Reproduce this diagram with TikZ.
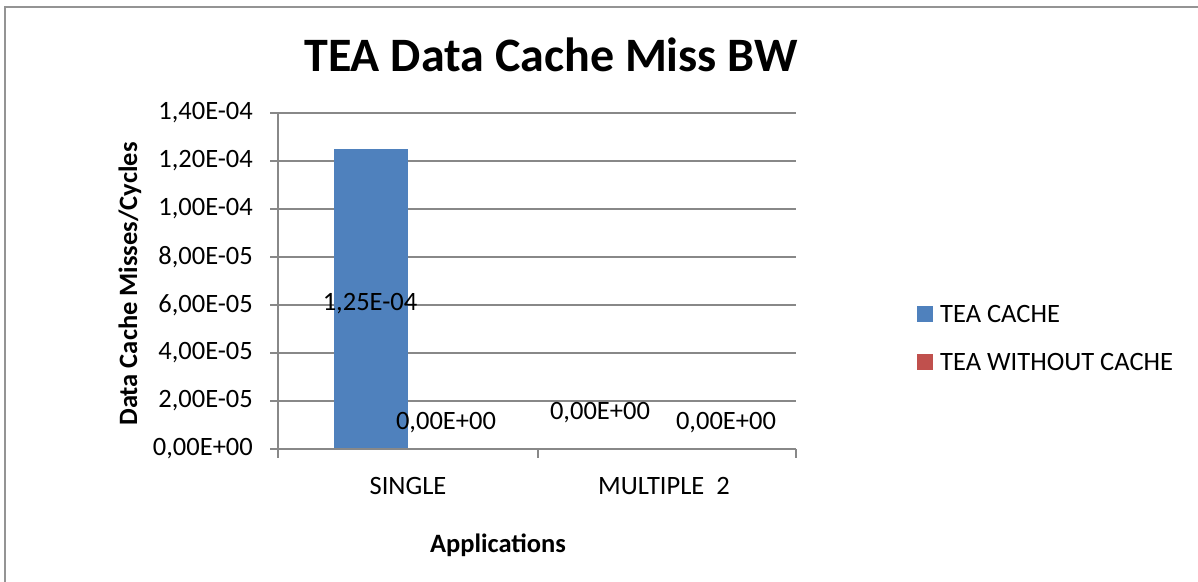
\documentclass[tikz,border=0pt]{standalone}
\usepackage{fontspec}
\setmainfont{Carlito}
\definecolor{seriesA}{HTML}{4F81BD}
\definecolor{seriesB}{HTML}{C0504D}
\definecolor{gridgray}{HTML}{888888}
\begin{document}
\begin{tikzpicture}[x=1pt,y=-1pt,
  lbl/.style={font=\fontsize{26.5}{31}\selectfont, inner sep=0pt},
  ticklbl/.style={lbl, anchor=east},
  gridline/.style={draw=gridgray, line width=1.6pt},
  axisline/.style={draw=gridgray, line width=1.6pt}]
  \useasboundingbox (0,0) rectangle (1198,581);
  % chart frame (only top and left edges fall on the page)
  \draw[draw=gridgray!90, line width=2pt] (5,585) -- (5,7) -- (1200,7);

  % title
  \node[font=\fontsize{48}{58}\selectfont\bfseries, inner sep=0pt] (title) at (551,55) {TEA Data Cache Miss BW};

  % horizontal gridlines with tick marks and value labels
  \foreach \i/\t in {0/{0,00E+00},1/{2,00E-05},2/{4,00E-05},3/{6,00E-05},4/{8,00E-05},5/{1,00E-04},6/{1,20E-04},7/{1,40E-04}} {
    \pgfmathsetmacro{\yy}{449-48*\i}
    \draw[gridline] (270,\yy) -- (796,\yy);
    \node[ticklbl] (tick\i) at (253,\yy) {\t};
  }

  % bars
  \fill[seriesA] (334,449) rectangle (408,149);

  % axes
  \draw[axisline] (278,112) -- (278,458);
  \draw[axisline] (270,449) -- (796,449);
  \draw[axisline] (538,449) -- (538,458);
  \draw[axisline] (796,449) -- (796,458);

  % data labels
  \node[lbl] (vA1) at (370,304) {1,25E-04};
  \node[lbl] (vB1) at (446,423) {0,00E+00};
  \node[lbl] (vA2) at (600,413) {0,00E+00};
  \node[lbl] (vB2) at (726,423) {0,00E+00};

  % category labels
  \node[lbl] (catA) at (408,486) {SINGLE};
  \node[lbl] (catB) at (664,486) {MULTIPLE\ \ 2};

  % axis titles
  \node[lbl, font=\fontsize{26.5}{31}\selectfont\bfseries] (xtitle) at (498,545) {Applications};
  \node[lbl, font=\fontsize{26.5}{31}\selectfont\bfseries, rotate=90] (ytitle) at (130,284) {Data Cache Misses/Cycles};

  % legend
  \fill[seriesA] (917,306) rectangle (933,322);
  \node[lbl, anchor=west] (legA) at (940,314) {TEA CACHE};
  \fill[seriesB] (917,354) rectangle (933,370);
  \node[lbl, anchor=west] (legB) at (940,362) {TEA WITHOUT CACHE};
\end{tikzpicture}
\end{document}
